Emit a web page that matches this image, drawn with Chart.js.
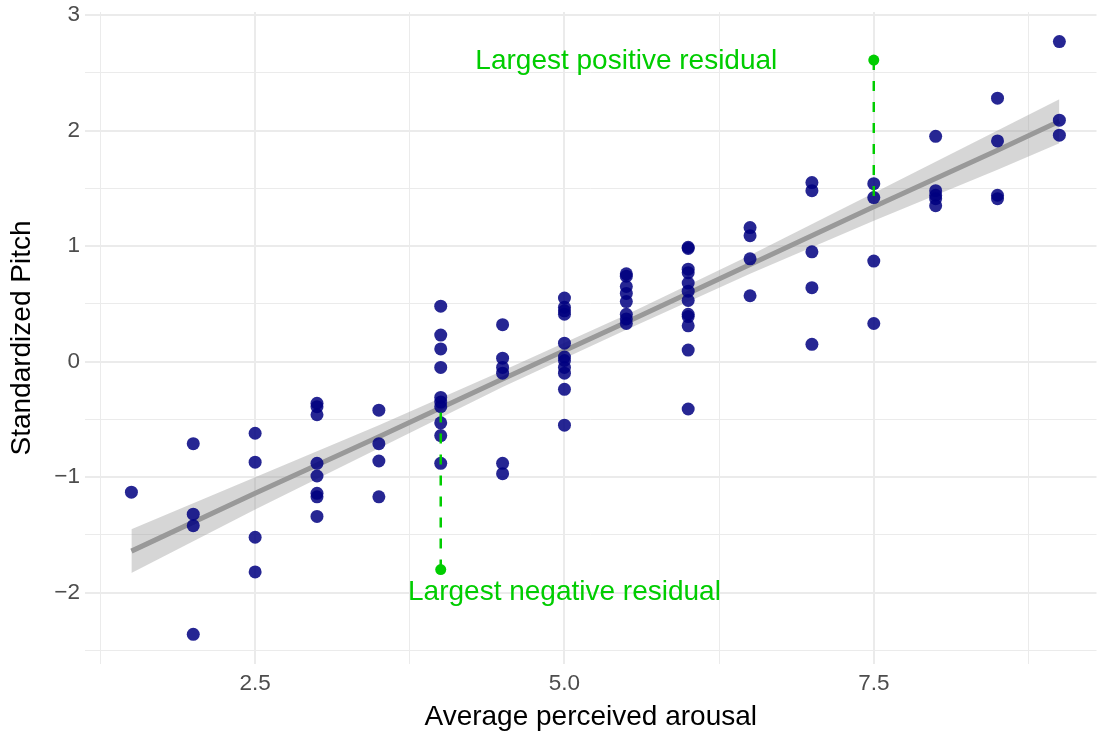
<!DOCTYPE html>
<html>
<head>
<meta charset="utf-8">
<title>Standardized pitch by perceived arousal</title>
<script src="https://cdn.jsdelivr.net/npm/chart.js@4.4.1/dist/chart.umd.min.js"></script>
<style>
  html, body { margin: 0; padding: 0; background: #ffffff; overflow: hidden; }
  /* a little wider than the window: the panel runs off the right edge */
  #wrap { width: 1103px; height: 733px; }
</style>
</head>
<body>
<div id="wrap"><canvas id="pitchChart"></canvas></div>
<script>
// Arousal ratings and the standardized pitch of every clip rated at that level
const arousalLevels = [1.5, 2, 2.5, 3, 3.5, 4, 4.5, 5, 5.5, 6, 6.5, 7, 7.5, 8, 8.5, 9];
const pitchByLevel = [
    [-1.13],
    [-0.71, -1.32, -1.42, -2.36],
    [-0.62, -0.87, -1.52, -1.82],
    [-0.36, -0.39, -0.46, -0.88, -0.99, -1.14, -1.17, -1.34],
    [-0.42, -0.71, -0.86, -1.17],
    [0.48, 0.23, 0.11, -0.05, -0.31, -0.35, -0.39, -0.53, -0.64, -0.88],
    [0.32, 0.03, -0.05, -0.10, -0.88, -0.97],
    [0.55, 0.47, 0.44, 0.41, 0.16, 0.04, 0.01, -0.05, -0.10, -0.24, -0.55],
    [0.76, 0.74, 0.65, 0.59, 0.52, 0.41, 0.37, 0.33],
    [0.99, 0.98, 0.80, 0.77, 0.68, 0.61, 0.53, 0.41, 0.39, 0.31, 0.10, -0.41],
    [1.16, 1.09, 0.89, 0.57],
    [1.55, 1.48, 0.95, 0.64, 0.15],
    [1.54, 1.42, 0.87, 0.33],
    [1.95, 1.48, 1.44, 1.41, 1.35],
    [2.28, 1.91, 1.44, 1.41],
    [2.77, 2.09, 1.96]
];

// Linear fit with its confidence band
const fitX = [1.5, 2.5, 3.5, 4.5, 5.5, 6.5, 7.5, 8.5, 9];
const fitY = [-1.64, -1.14, -0.65, -0.15, 0.34, 0.84, 1.34, 1.83, 2.08];
const fitLower = [-1.83, -1.28, -0.75, -0.22, 0.275, 0.76, 1.22, 1.66, 1.89];
const fitUpper = [-1.45, -1.00, -0.55, -0.08, 0.405, 0.92, 1.46, 2.00, 2.27];

// The two extreme residuals
const residualX = [4, 7.5];
const residualY = [-1.80, 2.61];
const residualFit = [-0.40, 1.34];
const residualLabels = ['Largest negative residual', 'Largest positive residual'];
const labelX = [5, 5.5];
const labelY = [-2.0, 2.6];

// Grid lines (labelled ones are the major breaks)
const xTicks = [1.25, 2.5, 3.75, 5, 6.25, 7.5, 8.75];
const xLabelled = [2.5, 5, 7.5];
const yTicks = [-2.5, -2, -1.5, -1, -0.5, 0, 0.5, 1, 1.5, 2, 2.5, 3];
const yLabelled = [-2, -1, 0, 1, 2, 3];

const GREEN = 'rgb(0, 205, 0)';
const FONT = '"Liberation Sans", Arial, Helvetica, sans-serif';

const toXY = (xs, ys) => xs.map((x, i) => ({ x: x, y: ys[i] }));

const points = [];
arousalLevels.forEach((level, i) => {
    pitchByLevel[i].forEach(p => points.push({ x: level, y: p }));
});

const residualSets = residualX.map((x, i) => ({
    data: [{ x: x, y: residualY[i] }, { x: x, y: residualFit[i] }],
    borderColor: GREEN,
    borderWidth: 2.5,
    borderDash: [10, 11],
    pointRadius: 0,
    fill: false,
    order: 3
}));

function fmtTick(v, labelled, fixed) {
    if (!labelled.includes(v)) return '';
    const s = fixed ? v.toFixed(1) : String(v);
    return s.replace('-', '\u2212');
}

function isMajor(v, labelled) {
    return labelled.includes(v);
}

// no extra room for the outer tick labels, the panel keeps its full size
function fixAxis(axis, size) {
    if (axis.isHorizontal()) axis.height = size;
    else axis.width = size;
    axis.paddingTop = 0;
    axis.paddingBottom = 0;
    axis.paddingLeft = 0;
    axis.paddingRight = 0;
}

// Draws the residual captions in data coordinates
const residualText = {
    id: 'residualText',
    afterDatasetsDraw(chart) {
        const { ctx, scales: { x, y } } = chart;
        ctx.save();
        ctx.font = '28px ' + FONT;
        ctx.fillStyle = GREEN;
        ctx.textAlign = 'center';
        ctx.textBaseline = 'middle';
        residualLabels.forEach((txt, i) => {
            ctx.fillText(txt, x.getPixelForValue(labelX[i]), y.getPixelForValue(labelY[i]));
        });
        ctx.restore();
    }
};

const ctx = document.getElementById('pitchChart');

new Chart(ctx, {
    type: 'line',
    data: {
        datasets: [
            {
                data: toXY(fitX, fitUpper),
                borderWidth: 0,
                pointRadius: 0,
                backgroundColor: 'rgba(153, 153, 153, 0.4)',
                fill: '+1',
                order: 6
            },
            {
                data: toXY(fitX, fitLower),
                borderWidth: 0,
                pointRadius: 0,
                fill: false,
                order: 6
            },
            {
                data: toXY(fitX, fitY),
                borderColor: '#999999',
                borderWidth: 5,
                pointRadius: 0,
                fill: false,
                order: 5
            },
            {
                data: points,
                showLine: false,
                pointRadius: 6.5,
                pointBorderWidth: 0,
                pointBackgroundColor: 'rgba(0, 0, 128, 0.85)',
                order: 4
            },
            ...residualSets,
            {
                data: toXY(residualX, residualY),
                showLine: false,
                pointRadius: 5.5,
                pointBorderWidth: 0,
                pointBackgroundColor: GREEN,
                order: 1
            }
        ]
    },
    options: {
        responsive: true,
        maintainAspectRatio: false,
        animation: false,
        layout: { padding: { top: 12, right: 0, bottom: 0, left: 0 } },
        plugins: {
            legend: { display: false },
            tooltip: { enabled: false }
        },
        scales: {
            x: {
                type: 'linear',
                min: 1.125,
                max: 9.30,
                afterBuildTicks: axis => { axis.ticks = xTicks.map(v => ({ value: v })); },
                afterFit: axis => fixAxis(axis, 69),
                border: { display: false },
                grid: {
                    color: '#ebebeb',
                    lineWidth: c => isMajor(c.tick.value, xLabelled) ? 2 : 1,
                    drawTicks: false
                },
                ticks: {
                    padding: 9,
                    color: '#4d4d4d',
                    font: { family: FONT, size: 22.5, lineHeight: 1 },
                    maxRotation: 0,
                    autoSkip: false,
                    callback: v => fmtTick(v, xLabelled, true)
                },
                title: {
                    display: true,
                    text: 'Average perceived arousal',
                    color: '#000000',
                    font: { family: FONT, size: 28, lineHeight: 1.1 },
                    padding: { top: 0, bottom: 0 }
                }
            },
            y: {
                type: 'linear',
                min: -2.617,
                max: 3.026,
                afterBuildTicks: axis => { axis.ticks = yTicks.map(v => ({ value: v })); },
                afterFit: axis => fixAxis(axis, 85),
                border: { display: false },
                grid: {
                    color: '#ebebeb',
                    lineWidth: c => isMajor(c.tick.value, yLabelled) ? 2 : 1,
                    drawTicks: false
                },
                ticks: {
                    padding: 5,
                    color: '#4d4d4d',
                    font: { family: FONT, size: 22.5, lineHeight: 1 },
                    autoSkip: false,
                    callback: v => fmtTick(v, yLabelled, false)
                },
                title: {
                    display: true,
                    text: 'Standardized Pitch',
                    color: '#000000',
                    font: { family: FONT, size: 28 },
                    padding: { top: 5, bottom: 0 }
                }
            }
        }
    },
    plugins: [residualText]
});
</script>
</body>
</html>
